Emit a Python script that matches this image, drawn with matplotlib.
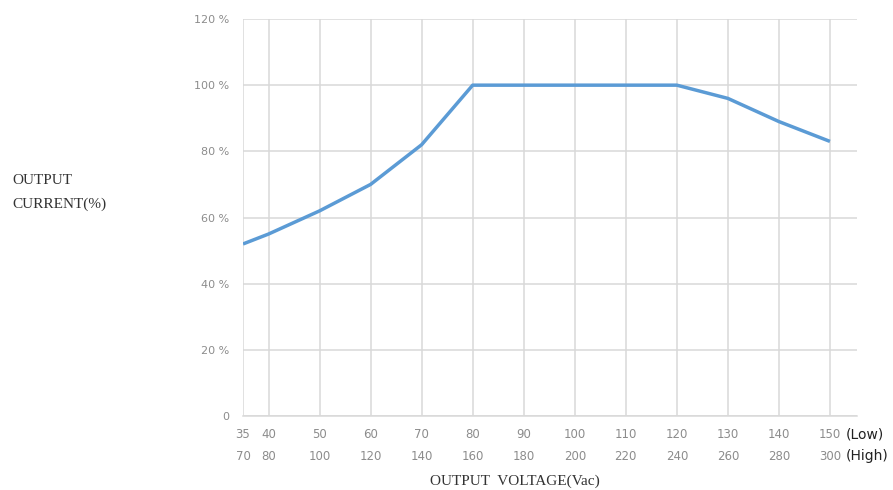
import matplotlib.pyplot as plt

# data
volt_low = [35, 40, 50, 60, 70, 80, 90, 100, 110, 120, 130, 140, 150]
volt_high = [70, 80, 100, 120, 140, 160, 180, 200, 220, 240, 260, 280, 300]
current = [52, 55, 62, 70, 82, 100, 100, 100, 100, 100, 96, 89, 83]
y_ticks = [0, 20, 40, 60, 80, 100, 120]
y_labels = ['0', '20 %', '40 %', '60 %', '80 %', '100 %', '120 %']

grid_color = '#d9d9d9'
tick_color = '#8c8c8c'
line_color = '#5b9bd5'

fig = plt.figure(figsize=(8.93, 4.90), dpi=100)
ax = fig.add_axes([243 / 893, 1 - 416 / 490, (857 - 243) / 893, (416 - 19) / 490])

ax.plot(volt_low, current, color=line_color, linewidth=2.5, solid_capstyle='butt', zorder=3)

ax.set_xlim(35, 155.3)
ax.set_ylim(0, 120)
ax.set_xticks(volt_low)
ax.set_yticks(y_ticks)
ax.set_yticklabels(y_labels, fontsize=8, color=tick_color, family='DejaVu Sans')
ax.set_xticklabels([])
ax.grid(True, color=grid_color, linewidth=1.1)
ax.tick_params(length=0, pad=10)

for s in ['top', 'right', 'left']:
    ax.spines[s].set_visible(False)
ax.spines['bottom'].set_color(grid_color)
ax.spines['bottom'].set_linewidth(1.1)

# two rows of x tick labels
tr = ax.get_xaxis_transform()
for lo, hi in zip(volt_low, volt_high):
    ax.text(lo, -18 / 397, str(lo), transform=tr, ha='center', va='center',
            fontsize=8.5, color=tick_color)
    ax.text(lo, -40 / 397, str(hi), transform=tr, ha='center', va='center',
            fontsize=8.5, color=tick_color)
ax.text(150 + 3.1, -18 / 397, '(Low)', transform=tr, ha='left', va='center',
        fontsize=10, color='#222222')
ax.text(150 + 3.1, -40 / 397, '(High)', transform=tr, ha='left', va='center',
        fontsize=10, color='#222222')

# axis titles
fig.text(515 / 893, 1 - 481 / 490, 'OUTPUT  VOLTAGE(Vac)', ha='center', va='center',
         fontsize=11, family='Liberation Serif', color='#333333')
fig.text(12 / 893, 1 - 181 / 490, 'OUTPUT', ha='left', va='center',
         fontsize=11, family='Liberation Serif', color='#333333')
fig.text(12 / 893, 1 - 204 / 490, 'CURRENT(%)', ha='left', va='center',
         fontsize=11, family='Liberation Serif', color='#333333')

plt.savefig('out.png', dpi=100)
